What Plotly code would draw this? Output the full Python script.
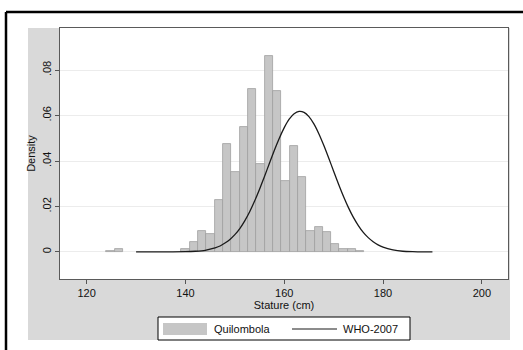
import plotly.graph_objects as go

# ---- data ----
bin_start = [124.0, 125.69, 139.17, 140.85, 142.54, 144.22, 145.91, 147.59, 149.28,
             150.96, 152.65, 154.33, 156.02, 157.70, 159.39, 161.07, 162.76, 164.44,
             166.13, 167.81, 169.50, 171.18, 172.87, 174.55]
bin_width = 1.685
density = [0.0006, 0.0012, 0.0012, 0.0044, 0.0093, 0.0077, 0.0229, 0.0477, 0.0352,
           0.0549, 0.0718, 0.0389, 0.0864, 0.0707, 0.0311, 0.0467, 0.0330, 0.0091,
           0.0110, 0.0087, 0.0035, 0.0014, 0.0014, 0.0006]

who_x = [130, 135, 140, 142, 144, 145, 146, 147, 148, 149, 150, 151, 152, 153, 154,
         155, 156, 157, 158, 159, 160, 161, 162, 163, 164, 165, 166, 167, 168, 169,
         170, 171, 172, 173, 174, 175, 176, 177, 178, 179, 180, 182, 184, 186, 188, 190]
who_y = [0.0, 0.0, 0.0001, 0.0003, 0.0007, 0.0012, 0.0018, 0.0026, 0.0039, 0.0055,
         0.0076, 0.0103, 0.0137, 0.0177, 0.0224, 0.0276, 0.0332, 0.0390, 0.0447,
         0.0500, 0.0547, 0.0584, 0.0608, 0.0618, 0.0614, 0.0595, 0.0563, 0.0520,
         0.0469, 0.0413, 0.0355, 0.0298, 0.0244, 0.0195, 0.0152, 0.0116, 0.0086,
         0.0063, 0.0045, 0.0031, 0.0021, 0.0009, 0.0003, 0.0001, 0.0, 0.0]

x_ticks = [120, 140, 160, 180, 200]
y_ticks = [0, 0.02, 0.04, 0.06, 0.08]
y_tick_labels = ["0", ".02", ".04", ".06", ".08"]

# ---- geometry (pixels) ----
W, H = 523, 350
L, R, T, B = 60, 508, 28, 279


def px(x):
    return (x - L) / (R - L)


def py(y):
    return (B - y) / (B - T)


FONT = "Liberation Sans, Arial, sans-serif"
fig = go.Figure()

fig.add_trace(go.Bar(
    x=[s + bin_width / 2 for s in bin_start], y=density, width=bin_width,
    name="Quilombola",
    marker=dict(color="#c6c6c6", line=dict(color="#9e9e9e", width=0.8)),
))
fig.add_trace(go.Scatter(
    x=who_x, y=who_y, mode="lines", name="WHO-2007",
    line=dict(color="#1a1a1a", width=1.3, shape="spline", smoothing=0.6),
))

shapes = [
    # grey outer region
    dict(type="rect", xref="paper", yref="paper", layer="below",
         x0=px(28), x1=px(510), y0=py(340), y1=py(28),
         fillcolor="#d9d9d9", line=dict(width=0)),
    # white plot region
    dict(type="rect", xref="paper", yref="paper", layer="below",
         x0=0, x1=1, y0=0, y1=1, fillcolor="white", line=dict(width=0)),
    # black frame lines of the image
    dict(type="line", xref="paper", yref="paper", x0=px(6), x1=px(523),
         y0=py(12), y1=py(12), line=dict(color="black", width=2.5)),
    dict(type="line", xref="paper", yref="paper", x0=px(6), x1=px(6),
         y0=py(12), y1=py(350), line=dict(color="black", width=2.5)),
    # legend box
    dict(type="rect", xref="paper", yref="paper", x0=px(158), x1=px(410),
         y0=py(340), y1=py(317), fillcolor="white",
         line=dict(color="black", width=1)),
    dict(type="rect", xref="paper", yref="paper", x0=px(163), x1=px(207),
         y0=py(335), y1=py(323), fillcolor="#c6c6c6", line=dict(width=0)),
    dict(type="line", xref="paper", yref="paper", x0=px(292), x1=px(337),
         y0=py(329), y1=py(329), line=dict(color="#1a1a1a", width=1.2)),
]

annotations = [
    dict(text="Quilombola", xref="paper", yref="paper", x=px(212), y=py(329),
         xanchor="left", yanchor="middle", showarrow=False,
         font=dict(family=FONT, size=11, color="#111")),
    dict(text="WHO-2007", xref="paper", yref="paper", x=px(341), y=py(329),
         xanchor="left", yanchor="middle", showarrow=False,
         font=dict(family=FONT, size=11, color="#111")),
]

fig.update_layout(
    width=W, height=H,
    margin=dict(l=L, r=W - R, t=T, b=H - B, pad=0),
    paper_bgcolor="white", plot_bgcolor="white",
    showlegend=False, bargap=0,
    font=dict(family=FONT, size=11, color="#111"),
    shapes=shapes, annotations=annotations,
    xaxis=dict(range=[114.6, 205.3], tickvals=x_ticks, ticks="outside",
               ticklen=4, tickcolor="#555", showgrid=False, zeroline=False,
               showline=True, mirror=True, linecolor="#5a5a5a", linewidth=1.2,
               title=dict(text="Stature (cm)", standoff=0,
                          font=dict(size=11)),
               tickfont=dict(size=11)),
    yaxis=dict(range=[-0.0119, 0.0985], tickvals=y_ticks,
               ticktext=y_tick_labels, tickangle=-90, ticks="outside",
               ticklen=4, tickcolor="#555", showgrid=True,
               gridcolor="#ececec", gridwidth=1, zeroline=False,
               showline=True, mirror=True, linecolor="#5a5a5a", linewidth=1.2,
               title=dict(text="Density", standoff=2, font=dict(size=11)),
               tickfont=dict(size=11)),
)

fig.write_html("out.html",
               config={"displayModeBar": False},
               post_script="document.body.style.margin='0';"
                           "document.body.style.overflow='hidden';")
